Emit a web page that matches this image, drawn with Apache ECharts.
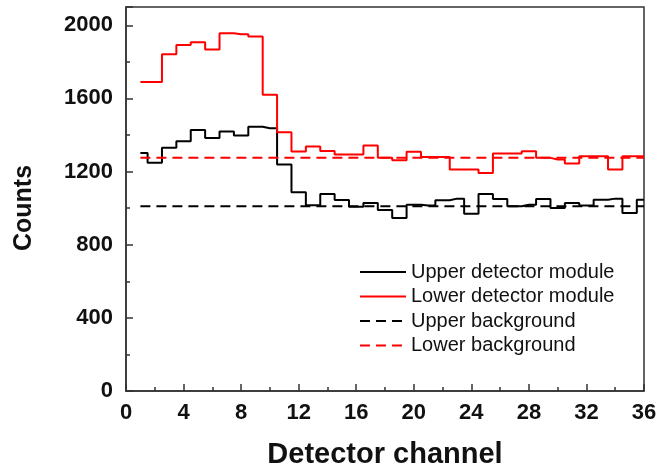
<!DOCTYPE html>
<html>
<head>
<meta charset="utf-8">
<script src="https://cdn.jsdelivr.net/npm/echarts@6/dist/echarts.min.js"></script>
<style>
  html, body { margin: 0; padding: 0; background: #fff; }
  #chart { width: 660px; height: 468px; }
</style>
</head>
<body>
<div id="chart"></div>
<script>
// detector channels 1..36
const channels = Array.from({ length: 36 }, (_, i) => i + 1)

// counts
const upperCounts = [
  1302, 1248, 1330, 1366, 1428, 1383, 1419, 1397, 1445, 1437,
  1238, 1087, 1016, 1078, 1045, 1008, 1028, 990, 946, 1019,
  1014, 1043, 1052, 970, 1078, 1050, 1010, 1019, 1050, 1001,
  1028, 1014, 1046, 1052, 973, 1046,
]
const lowerCounts = [
  1690, 1690, 1841, 1892, 1907, 1867, 1956, 1951, 1938, 1620,
  1415, 1310, 1337, 1312, 1293, 1293, 1342, 1275, 1262, 1308,
  1280, 1280, 1211, 1211, 1192, 1299, 1299, 1311, 1275, 1266,
  1244, 1284, 1284, 1211, 1284, 1284,
]

// flat background levels
const upperBackground = 1010
const lowerBackground = 1275

const xTicks = [0, 36, 4]   // min, max, interval
const yTicks = [0, 2100, 400]

const seriesNames = [
  'Upper detector module',
  'Lower detector module',
  'Upper background',
  'Lower background',
]

const chart = echarts.init(document.getElementById('chart'))

const toPairs = (vals) => channels.map((c, i) => [c, vals[i]])
const flat = (v) => [[channels[0], v], [channels[channels.length - 1], v]]

const fontFamily = 'Arial, "Liberation Sans", sans-serif'

chart.setOption({
  animation: false,
  grid: {
    left: 126, right: 16, top: 7, bottom: 77,
    outerBoundsMode: 'none',
    show: true, borderColor: '#333', borderWidth: 1.5,
  },
  legend: {
    orient: 'vertical',
    left: 354, top: 257,
    itemWidth: 46, itemHeight: 18, itemGap: 4.5,
    itemStyle: { opacity: 0 },
    textStyle: { fontSize: 20, color: '#111', fontFamily },
    data: seriesNames,
  },
  xAxis: {
    type: 'value',
    min: xTicks[0], max: xTicks[1], interval: xTicks[2],
    name: 'Detector channel',
    nameLocation: 'middle', nameGap: 49,
    nameTextStyle: { fontSize: 29, fontWeight: 'bold', color: '#111', fontFamily },
    axisLine: { lineStyle: { color: '#333', width: 1.5 } },
    axisTick: { inside: true, length: 7, lineStyle: { color: '#333', width: 1.5 } },
    minorTick: { show: true, splitNumber: 2, length: 4, lineStyle: { color: '#333', width: 1.5 } },
    axisLabel: { margin: 11, fontSize: 22, fontWeight: 'bold', color: '#111', fontFamily },
    splitLine: { show: false },
  },
  yAxis: {
    type: 'value',
    min: yTicks[0], max: yTicks[1], interval: yTicks[2],
    name: 'Counts',
    nameLocation: 'middle', nameGap: 89,
    nameTextStyle: { fontSize: 25, fontWeight: 'bold', color: '#111', fontFamily, padding: [0, 18, 0, 0] },
    axisLine: { lineStyle: { color: '#333', width: 1.5 } },
    axisTick: { inside: true, length: 7, lineStyle: { color: '#333', width: 1.5 } },
    minorTick: { show: true, splitNumber: 2, length: 4, lineStyle: { color: '#333', width: 1.5 } },
    axisLabel: {
      margin: 13, fontSize: 22, fontWeight: 'bold', color: '#111', fontFamily,
      showMaxLabel: false, formatter: (v) => String(v),
    },
    splitLine: { show: false },
  },
  series: [
    {
      name: seriesNames[0], type: 'line', step: 'middle', symbol: 'none',
      lineStyle: { color: '#000', width: 2 }, itemStyle: { color: '#000' },
      data: toPairs(upperCounts),
    },
    {
      name: seriesNames[1], type: 'line', step: 'middle', symbol: 'none',
      lineStyle: { color: '#ff0000', width: 2 }, itemStyle: { color: '#ff0000' },
      data: toPairs(lowerCounts),
    },
    {
      name: seriesNames[2], type: 'line', symbol: 'none',
      lineStyle: { color: '#000', width: 2, type: [10, 6] }, itemStyle: { color: '#000' },
      data: flat(upperBackground),
    },
    {
      name: seriesNames[3], type: 'line', symbol: 'none',
      lineStyle: { color: '#ff0000', width: 2, type: [10, 6] }, itemStyle: { color: '#ff0000' },
      data: flat(lowerBackground),
    },
  ],
})
</script>
</body>
</html>
